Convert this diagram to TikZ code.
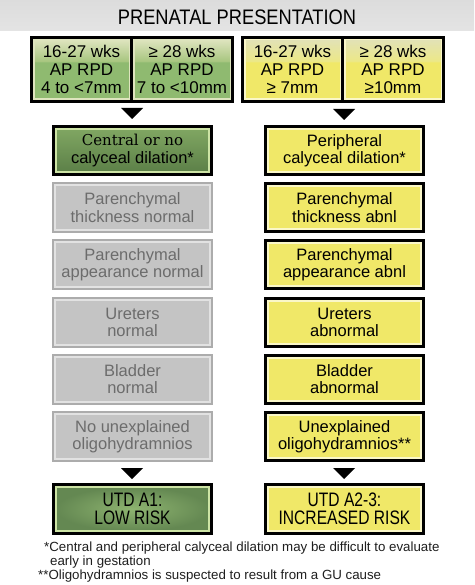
\documentclass[tikz,border=0pt]{standalone}
\usepackage{fontspec}
\setmainfont{Liberation Sans}
\newfontfamily\serifF{DejaVu Serif}
\newfontfamily\condF{Liberation Sans}[FakeStretch=0.8]
\newfontfamily\titleF{Liberation Sans}[FakeStretch=0.87]
\definecolor{gmid}{RGB}{143,186,112}
\definecolor{gtop}{RGB}{222,228,190}
\definecolor{gband}{RGB}{168,198,128}
\definecolor{ytop}{RGB}{226,226,182}
\definecolor{yband}{RGB}{236,232,135}
\definecolor{yfill}{RGB}{240,232,104}
\definecolor{yline}{RGB}{250,247,200}
\definecolor{dgA}{RGB}{128,166,98}
\definecolor{dgB}{RGB}{92,128,72}
\definecolor{gline}{RGB}{205,228,165}
\definecolor{grfill}{RGB}{196,196,196}
\definecolor{grline}{RGB}{226,226,226}
\definecolor{grout}{RGB}{172,172,172}
\definecolor{grtext}{RGB}{108,108,108}
\definecolor{lrA}{RGB}{142,180,112}
\definecolor{lrB}{RGB}{100,136,82}
\definecolor{bandA}{RGB}{220,220,220}
\definecolor{bandB}{RGB}{228,228,228}
\definecolor{foot}{RGB}{30,30,30}
\pgfdeclareverticalshading{gcell}{100bp}{color(0bp)=(gmid); color(56bp)=(gmid); color(57bp)=(gband); color(75bp)=(gtop); color(100bp)=(gtop)}
\pgfdeclareverticalshading{ycell}{100bp}{color(0bp)=(yfill); color(56bp)=(yfill); color(57bp)=(yband); color(75bp)=(ytop); color(100bp)=(ytop)}
\tikzset{
  cell/.style={rectangle, inner sep=0pt, minimum width=95.5pt, minimum height=59.5pt,
    draw=#1, line width=1.5pt, align=center, font=\fontsize{17}{18}\selectfont},
  grp/.style={rectangle, inner sep=0pt, minimum width=204pt, minimum height=67pt, fill=black},
  basebox/.style={rectangle, inner sep=0pt, minimum width=153pt, minimum height=43pt,
    line width=2pt, align=center, font=\fontsize{16.5}{17.5}\selectfont},
  graybox/.style={basebox, minimum width=155pt, minimum height=45pt, fill=grfill, draw=grline,
    preaction={draw=grout, line width=6pt}, text=grtext},
  yelbox/.style={basebox, fill=yfill, draw=yline, preaction={draw=black, line width=8pt}},
  dkbox/.style={basebox, top color=dgA, bottom color=dgB, draw=gline, preaction={draw=black, line width=8pt}},
  lowbox/.style={basebox, minimum height=44pt, inner color=lrA, outer color=lrB, draw=gline,
    preaction={draw=black, line width=8pt}, font=\condF\fontsize{19.5}{17.6}\selectfont},
  incbox/.style={yelbox, minimum height=44pt, font=\condF\fontsize{19.5}{17.6}\selectfont},
  footnote/.style={anchor=west, inner sep=0pt, text=foot, font=\fontsize{13.3}{14}\selectfont},
}
\begin{document}
\begin{tikzpicture}[x=1pt,y=-1pt]
\useasboundingbox (0,0) rectangle (474,585);
% title band
\node[rectangle, inner sep=0pt, minimum width=474pt, minimum height=31pt, top color=bandA, bottom color=bandB] (band) at (237,15.5) {};
\node[inner sep=0pt, font=\titleF\fontsize{21}{21}\selectfont] (title) at (237,17.5) {PRENATAL PRESENTATION};
% top groups
\node[grp] (gA) at (132,69.5) {};
\node[grp] (gB) at (343,69.5) {};
\node[cell=gtop, shading=gcell] (c1) at (81.5,69.5) {16-27 wks\\AP RPD\\4 to <7mm};
\node[cell=gtop, shading=gcell, minimum width=96.5pt] (c2) at (182,69.5) {≥ 28 wks\\AP RPD\\7 to <10mm};
\node[cell=yline, shading=ycell] (c3) at (292.5,69.5) {16-27 wks\\AP RPD\\≥ 7mm};
\node[cell=yline, shading=ycell, minimum width=96.5pt] (c4) at (393,69.5) {≥ 28 wks\\AP RPD\\≥10mm};
% triangles
\coordinate (t1) at (132,108);
\coordinate (t2) at (344,109);
\coordinate (t3) at (132,468);
\coordinate (t4) at (344,468);
\foreach \t in {t1,t2,t3,t4}{\fill (\t) ++(-11,0) -- ++(22,0) -- ++(-11,11) -- cycle;}
% left column
\node[dkbox] (L1) at (132.5,150.5) {{\serifF\fontsize{15}{18}\selectfont Central or no}\\[0pt]calyceal dilation*};
\node[graybox] (L2) at (132.5,207.5) {Parenchymal\\thickness normal};
\node[graybox] (L3) at (132.5,264.5) {Parenchymal\\appearance normal};
\node[graybox] (L4) at (132.5,322.5) {Ureters\\normal};
\node[graybox] (L5) at (132.5,379) {Bladder\\normal};
\node[graybox] (L6) at (132.5,436.5) {No unexplained\\oligohydramnios};
\node[lowbox] (L7) at (132.5,509) {UTD A1:\\LOW RISK};
% right column
\node[yelbox] (R1) at (344.5,150.5) {Peripheral\\calyceal dilation*};
\node[yelbox] (R2) at (344.5,207.5) {Parenchymal\\thickness abnl};
\node[yelbox] (R3) at (344.5,264.5) {Parenchymal\\appearance abnl};
\node[yelbox] (R4) at (344.5,322.5) {Ureters\\abnormal};
\node[yelbox] (R5) at (344.5,379) {Bladder\\abnormal};
\node[yelbox] (R6) at (344.5,436.5) {Unexplained\\oligohydramnios**};
\node[incbox] (R7) at (344.5,509) {UTD A2-3:\\INCREASED RISK};
% footnotes
\node[footnote] (f1) at (44,548) {*Central and peripheral calyceal dilation may be difficult to evaluate};
\node[footnote] (f2) at (50,562) {early in gestation};
\node[footnote] (f3) at (38,576) {**Oligohydramnios is suspected to result from a GU cause};
\end{tikzpicture}
\end{document}
